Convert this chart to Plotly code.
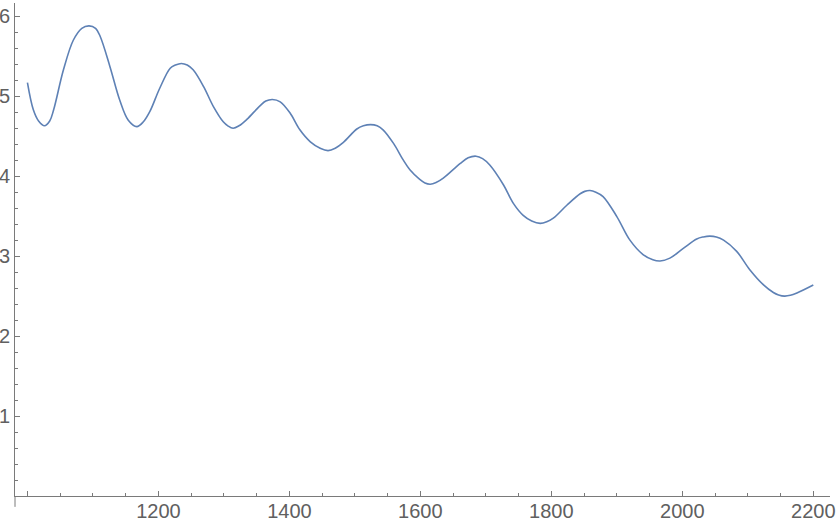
import plotly.graph_objects as go

# values
x_vals = [1000, 1009, 1017, 1026, 1034, 1040, 1055, 1070, 1083, 1094, 1104, 1111,
          1126, 1141, 1154, 1167, 1177, 1187, 1202, 1218, 1226, 1235, 1244, 1253,
          1269, 1284, 1299, 1306, 1314, 1323, 1335, 1355, 1364, 1374, 1386, 1401,
          1416, 1432, 1447, 1459, 1470, 1482, 1503, 1513, 1524, 1534, 1543, 1559,
          1574, 1584, 1599, 1607, 1615, 1624, 1635, 1661, 1673, 1685, 1695, 1706,
          1727, 1742, 1757, 1770, 1783, 1793, 1803, 1824, 1844, 1851, 1859, 1868,
          1879, 1900, 1920, 1940, 1955, 1966, 1981, 2002, 2022, 2032, 2042, 2052,
          2063, 2083, 2103, 2124, 2139, 2147, 2156, 2165, 2175, 2200]
y_vals = [5.17, 4.83, 4.69, 4.63, 4.69, 4.83, 5.33, 5.70, 5.85, 5.88, 5.85, 5.75,
          5.37, 4.95, 4.70, 4.62, 4.68, 4.81, 5.10, 5.35, 5.39, 5.41, 5.39, 5.33,
          5.12, 4.87, 4.68, 4.63, 4.60, 4.63, 4.71, 4.88, 4.94, 4.96, 4.93, 4.79,
          4.58, 4.43, 4.35, 4.32, 4.35, 4.42, 4.59, 4.63, 4.645, 4.63, 4.58, 4.41,
          4.20, 4.08, 3.96, 3.915, 3.90, 3.92, 3.975, 4.16, 4.23, 4.25, 4.22, 4.14,
          3.89, 3.66, 3.51, 3.44, 3.41, 3.43, 3.475, 3.64, 3.78, 3.81, 3.82, 3.80,
          3.745, 3.495, 3.20, 3.02, 2.955, 2.94, 2.975, 3.10, 3.215, 3.24, 3.25, 3.24,
          3.20, 3.06, 2.83, 2.64, 2.545, 2.515, 2.50, 2.51, 2.54, 2.64]

x_ticks = [1000, 1200, 1400, 1600, 1800, 2000, 2200]
x_tick_labels = ['', '1200', '1400', '1600', '1800', '2000', '2200']
y_ticks = [1, 2, 3, 4, 5, 6]
y_tick_labels = ['1', '2', '3', '4', '5', '6']

axis_col = '#7a7a7a'
label_col = '#606060'

fig = go.Figure()
fig.add_trace(go.Scatter(x=x_vals, y=y_vals, mode='lines',
                         line=dict(color='#5E81B5', width=1.6, shape='spline', smoothing=1),
                         showlegend=False))

fig.update_xaxes(range=[981, 2225.5], showgrid=False, zeroline=False,
                 showline=True, linecolor=axis_col, linewidth=1,
                 tickmode='array', tickvals=x_ticks, ticktext=x_tick_labels,
                 ticks='inside', ticklen=5, tickcolor=axis_col, tickwidth=1,
                 ticklabelstandoff=-3,
                 minor=dict(tickmode='linear', tick0=1000, dtick=50, ticks='inside',
                            ticklen=3, tickcolor=axis_col, showgrid=False),
                 tickfont=dict(family='Liberation Sans', size=20, color=label_col),
                 automargin=False)
fig.update_yaxes(range=[0, 6.166], showgrid=False, zeroline=False,
                 showline=True, linecolor=axis_col, linewidth=1,
                 tickmode='array', tickvals=y_ticks, ticktext=y_tick_labels,
                 ticks='inside', ticklen=5, tickcolor=axis_col, tickwidth=1,
                 minor=dict(tickmode='linear', tick0=0, dtick=0.2, ticks='inside',
                            ticklen=3, tickcolor=axis_col, showgrid=False),
                 tickfont=dict(family='Liberation Sans', size=20, color=label_col),
                 automargin=False)

# y axis line continues a little below the x axis
fig.add_shape(type='line', xref='paper', yref='paper', x0=0, x1=0, y0=0, y1=-0.022,
              line=dict(color=axis_col, width=1))

fig.update_layout(width=838, height=522, margin=dict(l=15, r=8, t=3, b=26),
                  plot_bgcolor='white', paper_bgcolor='white')

fig.write_html("out.html", config={'displayModeBar': False},
               post_script="document.body.style.margin='0';")
